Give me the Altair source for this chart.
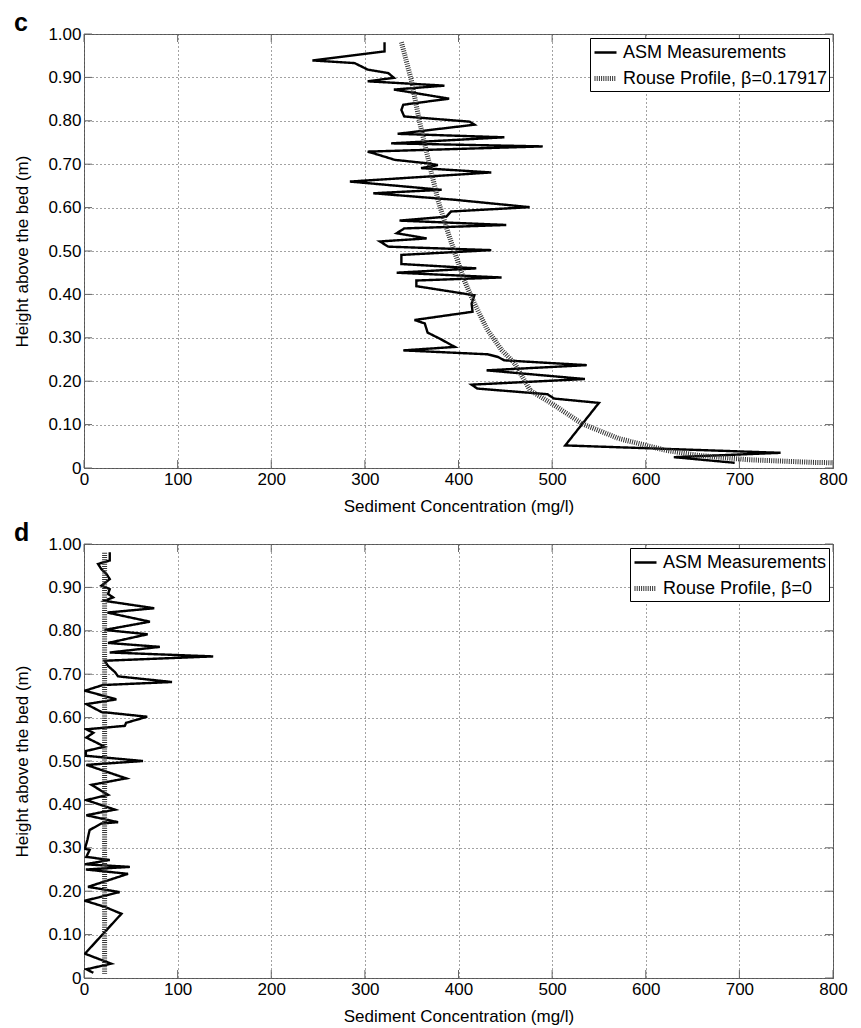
import altair as alt
import pandas as pd

# ---------------- data ----------------
x_ticks = [0, 100, 200, 300, 400, 500, 600, 700, 800]
y_ticks = [0, 0.1, 0.2, 0.3, 0.4, 0.5, 0.6, 0.7, 0.8, 0.9, 1.0]
panel_labels = ["c", "d"]
asm_label = "ASM Measurements"
rouse_labels = ["Rouse Profile, \u03b2=0.17917", "Rouse Profile, \u03b2=0"]

# Panel c - ASM measurements
c_asm_conc = [321, 321, 244, 289, 303, 325, 331, 303, 385, 331,
              390, 341, 339, 342, 412, 417, 335, 449, 328, 490,
              303, 314, 332, 367, 378, 360, 435, 284, 382, 309,
              396, 476, 392, 387, 337, 451, 342, 334, 366, 316,
              325, 435, 339, 339, 419, 334, 446, 355, 355, 417,
              414, 415, 353, 364, 367, 380, 396, 341, 431, 442,
              449, 537, 430, 535, 414, 420, 495, 502, 550, 514,
              744, 630, 695]
c_asm_h = [0.981, 0.960, 0.939, 0.933, 0.918, 0.910, 0.899, 0.891, 0.881, 0.872,
           0.851, 0.837, 0.825, 0.810, 0.798, 0.791, 0.770, 0.762, 0.748, 0.741,
           0.729, 0.722, 0.710, 0.702, 0.698, 0.691, 0.681, 0.660, 0.641, 0.633,
           0.618, 0.601, 0.591, 0.579, 0.570, 0.560, 0.552, 0.541, 0.529, 0.522,
           0.510, 0.502, 0.491, 0.470, 0.460, 0.450, 0.439, 0.432, 0.419, 0.398,
           0.379, 0.360, 0.341, 0.333, 0.312, 0.298, 0.279, 0.271, 0.262, 0.256,
           0.248, 0.237, 0.225, 0.205, 0.192, 0.183, 0.170, 0.160, 0.150, 0.052,
           0.035, 0.025, 0.012]

# Panel c - Rouse profile
c_rouse_conc = [339, 349.5, 358, 367, 378, 389, 397.5, 406, 417, 431,
                446, 460, 476.5, 500, 532, 571, 621, 656, 710, 778, 800]
c_rouse_h = [0.981, 0.895, 0.802, 0.718, 0.618, 0.541, 0.487, 0.433, 0.379, 0.318,
             0.272, 0.241, 0.179, 0.148, 0.102, 0.068, 0.041, 0.029, 0.019, 0.013, 0.012]

# Panel d - ASM measurements
d_asm_conc = [27.5, 27.5, 15, 18.6, 24, 27.5, 18.6, 27.5, 25.7, 31,
              22, 75, 25, 70.4, 22, 68, 25.7, 81, 27.5, 138,
              22, 25.7, 33, 36.4, 94, 20, 1, 34.6, 2.5, 18.6,
              67.5, 45, 43.6, 2.5, 10, 2.5, 22, 2, 2, 63,
              2.5, 8, 45, 8, 25.7, 2.5, 33, 2.5, 36.4, 18.6,
              6, 3.6, 1, 6, 2.5, 27.5, 1, 49, 2, 47,
              4.3, 38, 1, 22, 40, 1, 29, 2.5, 10]
d_asm_h = [0.981, 0.962, 0.954, 0.942, 0.931, 0.919, 0.904, 0.896, 0.885, 0.877,
           0.869, 0.852, 0.842, 0.821, 0.802, 0.792, 0.772, 0.763, 0.750, 0.741,
           0.731, 0.719, 0.705, 0.695, 0.682, 0.675, 0.662, 0.642, 0.631, 0.613,
           0.602, 0.588, 0.581, 0.573, 0.565, 0.554, 0.533, 0.523, 0.512, 0.500,
           0.491, 0.487, 0.460, 0.445, 0.422, 0.410, 0.388, 0.375, 0.359, 0.356,
           0.341, 0.318, 0.298, 0.295, 0.279, 0.272, 0.262, 0.256, 0.250, 0.240,
           0.210, 0.198, 0.178, 0.164, 0.148, 0.056, 0.033, 0.020, 0.012]

# Panel d - Rouse profile
d_rouse_conc = [22, 22]
d_rouse_h = [0.980, 0.010]

# ---------------- chart ----------------
W, H = 749, 434
FONT = "Liberation Sans"
TICK = 8


def panel(asm_c, asm_h, r_c, r_h, rouse_label, tag):
    rows = []
    for i, (c, h) in enumerate(zip(asm_c, asm_h)):
        rows.append({"conc": c, "h": h, "s": asm_label, "i": i})
    for i, (c, h) in enumerate(zip(r_c, r_h)):
        rows.append({"conc": c, "h": h, "s": rouse_label, "i": i})
    df = pd.DataFrame(rows)
    dom = [asm_label, rouse_label]
    leg = alt.Legend(title=None, orient="top-right", offset=4)

    xenc = alt.X("conc:Q", scale=alt.Scale(domain=[0, 800], nice=False),
                 axis=alt.Axis(values=x_ticks, title="Sediment Concentration (mg/l)",
                               format="d", labelPadding=3, titlePadding=11))
    yenc = alt.Y("h:Q", scale=alt.Scale(domain=[0, 1], nice=False),
                 axis=alt.Axis(values=y_ticks, title="Height above the bed (m)",
                               labelExpr="datum.value == 0 ? '0' : format(datum.value, '.2f')",
                               labelPadding=3, titlePadding=16))

    lines = alt.Chart(df).mark_line(clip=True, strokeCap="butt", strokeJoin="miter").encode(
        x=xenc, y=yenc,
        color=alt.Color("s:N", scale=alt.Scale(domain=dom, range=["#000000", "#333333"]), legend=leg),
        strokeDash=alt.StrokeDash("s:N", scale=alt.Scale(domain=dom, range=[[1, 0], [1, 1.2]]), legend=leg),
        strokeWidth=alt.StrokeWidth("s:N", scale=alt.Scale(domain=dom, range=[2.4, 5]), legend=leg),
        order=alt.Order("i:Q"),
    )

    xt = pd.DataFrame({"conc": x_ticks})
    yt = pd.DataFrame({"h": y_ticks})
    xt_bot = alt.Chart(xt).mark_rule(color="#666666").encode(
        x="conc:Q", y=alt.value(H), y2=alt.value(H - TICK))
    xt_top = alt.Chart(xt).mark_rule(color="#666666").encode(
        x="conc:Q", y=alt.value(0), y2=alt.value(TICK))
    yt_l = alt.Chart(yt).mark_rule(color="#666666").encode(
        y="h:Q", x=alt.value(0), x2=alt.value(TICK))
    yt_r = alt.Chart(yt).mark_rule(color="#666666").encode(
        y="h:Q", x=alt.value(W - TICK), x2=alt.value(W))

    lab = alt.Chart(pd.DataFrame({"t": [tag]})).mark_text(
        align="left", baseline="alphabetic", fontSize=25, fontWeight="bold",
        font=FONT, color="black").encode(
        x=alt.value(-70), y=alt.value(-3), text="t:N")

    return alt.layer(xt_bot, xt_top, yt_l, yt_r, lines, lab).properties(width=W, height=H)


pc = panel(c_asm_conc, c_asm_h, c_rouse_conc, c_rouse_h, rouse_labels[0], panel_labels[0])
pd_ = panel(d_asm_conc, d_asm_h, d_rouse_conc, d_rouse_h, rouse_labels[1], panel_labels[1])

chart = alt.vconcat(pc, pd_, spacing=5).resolve_scale(
    color="independent", strokeDash="independent", strokeWidth="independent"
).resolve_legend(
    color="independent", strokeDash="independent", strokeWidth="independent"
).configure_view(
    stroke="#666666", strokeWidth=1
).configure_axis(
    labelFont=FONT, titleFont=FONT, labelFontSize=17, titleFontSize=17,
    titleFontWeight="normal", labelColor="black", titleColor="black",
    grid=True, gridDash=[1, 3], gridColor="#444444", gridOpacity=1, gridWidth=1,
    domain=False, ticks=False, tickSize=0, labelOverlap=False, labelFlush=False,
    labelBound=False
).configure_legend(
    strokeColor="black", fillColor="white", padding=2, labelFont=FONT,
    labelFontSize=18, labelColor="black", symbolType="stroke", symbolSize=484,
    rowPadding=3, labelOffset=4, cornerRadius=0, labelLimit=400
).properties(
    background="white",
    padding={"left": 5, "top": 2, "right": 5, "bottom": 0}
)

chart.save("out.html", embed_options={"renderer": "svg", "actions": False})
